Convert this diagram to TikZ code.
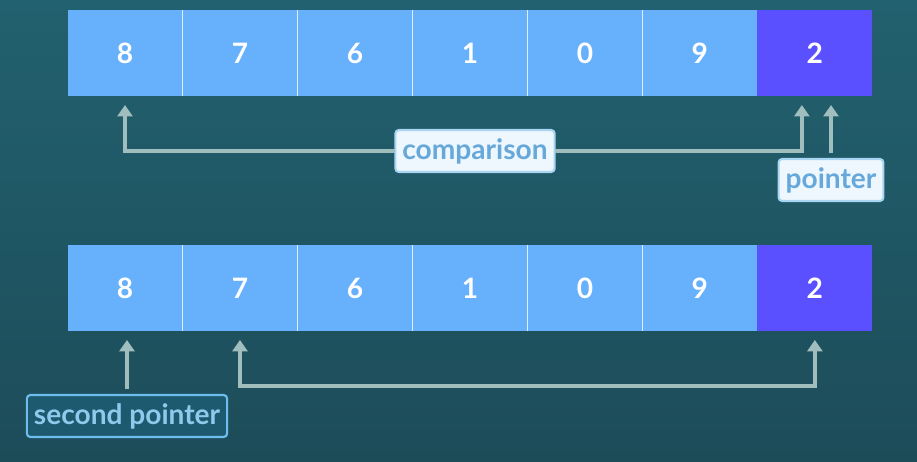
\documentclass[tikz,border=0pt]{standalone}
\usepackage{fontspec}
\setmainfont{Lato}
\usetikzlibrary{positioning,arrows.meta}

\definecolor{cellblue}{HTML}{66B0FC}
\definecolor{cellpick}{HTML}{5A50FF}
\definecolor{bgtop}{HTML}{22616F}
\definecolor{bgbot}{HTML}{1D4C59}
\definecolor{arrowgray}{HTML}{A0BEBD}
\definecolor{tagtext}{HTML}{66A8DA}
\definecolor{tagedge}{HTML}{A8D6F2}
\definecolor{tagfill}{HTML}{EEF7FE}
\definecolor{darkfill}{HTML}{1E5A6F}
\definecolor{darkedge}{HTML}{6DBDEE}
\definecolor{darktext}{HTML}{8FC9EC}

\begin{document}
\begin{tikzpicture}[
    x=0.02cm, y=0.02cm,
    >={Triangle[width=8.5pt,length=6.5pt]},
    every node/.style={font=\fontsize{16}{19}\selectfont\bfseries, outer sep=0pt},
    cell/.style={fill=cellblue, text=white, minimum width=2.3cm, minimum height=1.72cm, inner sep=0pt},
    pick/.style={cell, fill=cellpick},
    sep/.style={draw=white!80!cellblue, line width=0.8pt},
    tag/.style={fill=tagfill, draw=tagedge, line width=1.2pt, text=tagtext, rounded corners=2pt, minimum height=0.84cm, inner xsep=4pt},
    darktag/.style={tag, fill=darkfill, draw=darkedge, text=darktext},
    ptr/.style={draw=arrowgray, line width=2pt, ->, shorten >=0.18cm}
]

\shade[top color=bgtop, bottom color=bgbot] (0,0) rectangle (917,461);
\useasboundingbox (0,0) rectangle (917,461);

% first array
\node[cell] (a1) at (125,408) {8};
\node[cell, right=0pt of a1] (a2) {7};
\node[cell, right=0pt of a2] (a3) {6};
\node[cell, right=0pt of a3] (a4) {1};
\node[cell, right=0pt of a4] (a5) {0};
\node[cell, right=0pt of a5] (a6) {9};
\node[pick, right=0pt of a6] (a7) {2};
\draw[sep] (a1.north east) -- (a1.south east) (a2.north east) -- (a2.south east)
    (a3.north east) -- (a3.south east) (a4.north east) -- (a4.south east)
    (a5.north east) -- (a5.south east);

% second array
\node[cell, below=2.98cm of a1] (b1) {8};
\node[cell, right=0pt of b1] (b2) {7};
\node[cell, right=0pt of b2] (b3) {6};
\node[cell, right=0pt of b3] (b4) {1};
\node[cell, right=0pt of b4] (b5) {0};
\node[cell, right=0pt of b5] (b6) {9};
\node[pick, right=0pt of b6] (b7) {2};
\draw[sep] (b1.north east) -- (b1.south east) (b2.north east) -- (b2.south east)
    (b3.north east) -- (b3.south east) (b4.north east) -- (b4.south east)
    (b5.north east) -- (b5.south east);

% labels
\node[tag] (cmp) at (475,310) {comparison};
\node[tag] (pnt) at (831,281) {pointer};
\node[darktag] (snd) at (127,45) {second pointer};

% arrows
\draw[ptr] (cmp.west) -| (a1.south);
\draw[ptr] (cmp.east) -| ([xshift=-0.26cm]a7.south);
\draw[ptr, shorten <=0.12cm] (pnt.north) -- (pnt.north |- a7.south);
\draw[ptr, shorten <=0.12cm] (snd.north) -- (snd.north |- b1.south);
\draw[ptr, <->, shorten <=0.18cm] (b2.south) -- ++(0,-55) -| (b7.south);

\end{tikzpicture}
\end{document}
